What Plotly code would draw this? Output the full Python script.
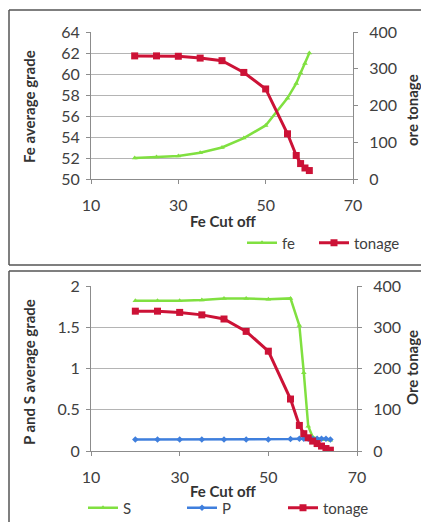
import plotly.graph_objects as go

W, H = 421, 522

# ---- data ----
cutoff_fe = [20, 25, 30, 35, 40, 45, 50, 55, 57, 58, 59, 60]
fe_grade = [52.0, 52.1, 52.2, 52.5, 53.0, 53.9, 55.1, 57.7, 59.1, 60.1, 61.0, 62.0]
tonage_fe = [335, 335, 334, 329, 322, 290, 245, 123, 64, 42, 30, 23]

cutoff_ps = [20, 25, 30, 35, 40, 45, 50, 55, 57, 58, 59, 60, 61, 62, 63, 64]
s_grade = [1.82, 1.82, 1.82, 1.83, 1.85, 1.85, 1.84, 1.85, 1.52, 0.95, 0.30, 0.17, 0.15, 0.14, 0.14, 0.13]
p_grade = [0.14, 0.14, 0.14, 0.14, 0.14, 0.14, 0.14, 0.145, 0.15, 0.15, 0.15, 0.15, 0.15, 0.15, 0.15, 0.14]
tonage_ps = [339, 339, 336, 330, 320, 290, 242, 126, 62, 42, 32, 24, 18, 12, 6, 2]

x_ticks = [10, 30, 50, 70]

GREEN = "#80E040"
RED = "#CC1236"
BLUE = "#3F7FDD"
FONT = "Lato"
TXT = "#404040"


def px(x):
    return x / W


def py(y):
    return 1 - y / H


fig = go.Figure()

fig.add_trace(go.Scatter(x=cutoff_fe, y=fe_grade, name="fe", mode="lines+markers",
                         line=dict(color=GREEN, width=2.5),
                         marker=dict(symbol="triangle-up", size=5, color=GREEN),
                         xaxis="x", yaxis="y", legend="legend"))
fig.add_trace(go.Scatter(x=cutoff_fe, y=tonage_fe, name="tonage", mode="lines+markers",
                         line=dict(color=RED, width=3),
                         marker=dict(symbol="square", size=7, color=RED),
                         xaxis="x", yaxis="y2", legend="legend2"))

fig.add_trace(go.Scatter(x=cutoff_ps, y=s_grade, name="S", mode="lines+markers",
                         line=dict(color=GREEN, width=2.5),
                         marker=dict(symbol="triangle-up", size=5, color=GREEN),
                         xaxis="x2", yaxis="y3", legend="legend3"))
fig.add_trace(go.Scatter(x=cutoff_ps, y=p_grade, name="P", mode="lines+markers",
                         line=dict(color=BLUE, width=2.5),
                         marker=dict(symbol="diamond", size=5, color=BLUE),
                         xaxis="x2", yaxis="y3", legend="legend4"))
fig.add_trace(go.Scatter(x=cutoff_ps, y=tonage_ps, name="tonage", mode="lines+markers",
                         line=dict(color=RED, width=3),
                         marker=dict(symbol="square", size=7, color=RED),
                         xaxis="x2", yaxis="y4", legend="legend5"))

tickfont = dict(family=FONT, size=16, color=TXT)
axline = dict(showline=True, linecolor="#8c8c8c", linewidth=1, automargin=False)

xcommon = dict(range=[10, 70], tickvals=x_ticks, ticks="outside", ticklen=4,
               tickcolor="#8c8c8c", showgrid=False, zeroline=False,
               tickfont=tickfont, ticklabelstandoff=8, **axline)

ycommon = dict(showgrid=True, gridcolor="#b4b4b4", gridwidth=1, zeroline=False,
               ticks="outside", ticklen=4, tickcolor="#8c8c8c",
               tickfont=tickfont, ticklabelstandoff=3, **axline)

y2common = dict(showgrid=False, zeroline=False, ticks="outside", ticklen=4,
                tickcolor="#8c8c8c", tickfont=tickfont, ticklabelstandoff=8, **axline)


def leg(x, y):
    return dict(orientation="h", x=px(x), y=py(y), xanchor="left", yanchor="middle",
                font=dict(family=FONT, size=15, color=TXT), bgcolor="rgba(0,0,0,0)",
                itemwidth=30)


fig.update_layout(
    width=W, height=H,
    margin=dict(l=0, r=0, t=0, b=0, autoexpand=False),
    paper_bgcolor="white", plot_bgcolor="white",
    showlegend=True,
    xaxis=dict(domain=[px(91), px(353)], anchor="y", **xcommon),
    yaxis=dict(domain=[py(179), py(32)], range=[50, 64], dtick=2, anchor="x", **ycommon),
    yaxis2=dict(range=[0, 400], dtick=100, overlaying="y", side="right", anchor="x", **y2common),
    xaxis2=dict(domain=[px(91), px(357)], anchor="y3", **xcommon),
    yaxis3=dict(domain=[py(451), py(286)], range=[0, 2], dtick=0.5, anchor="x2", **ycommon),
    yaxis4=dict(range=[0, 400], dtick=100, overlaying="y3", side="right", anchor="x2", **y2common),
    legend=leg(242, 243),
    legend2=leg(314, 243),
    legend3=leg(83, 508),
    legend4=leg(182, 508),
    legend5=leg(283, 508),
)

annos = [
    dict(text="<b>Fe average grade</b>", x=px(29), y=py(106), textangle=-90),
    dict(text="<b>ore tonage</b>", x=px(412), y=py(110), textangle=-90),
    dict(text="<b>Fe Cut off</b>", x=px(223), y=py(221), textangle=0),
    dict(text="<b>P and S average grade</b>", x=px(29), y=py(372), textangle=-90),
    dict(text="<b>Ore tonage</b>", x=px(412), y=py(368), textangle=-90),
    dict(text="<b>Fe Cut off</b>", x=px(223), y=py(491), textangle=0),
]
for a in annos:
    fig.add_annotation(text=a["text"], x=a["x"], y=a["y"], xref="paper", yref="paper",
                       showarrow=False, textangle=a["textangle"],
                       xanchor="center", yanchor="middle",
                       font=dict(family=FONT, size=15, color="#333333"))

frame = dict(color="#555555", width=1.5)
shapes = [
    dict(x0=px(9), x1=px(421), y0=py(10), y1=py(10)),
    dict(x0=px(9), x1=px(9), y0=py(10), y1=py(265)),
    dict(x0=px(9), x1=px(421), y0=py(265), y1=py(265)),
    dict(x0=px(9), x1=px(421), y0=py(271), y1=py(271)),
    dict(x0=px(9), x1=px(9), y0=py(271), y1=py(522)),
]
for s in shapes:
    fig.add_shape(type="line", xref="paper", yref="paper", line=frame, **s)

fig.write_html(
    "out.html",
    config={"displayModeBar": False},
    post_script="document.body.style.margin='0';document.body.style.padding='0';"
                "document.body.style.overflow='hidden';",
)
